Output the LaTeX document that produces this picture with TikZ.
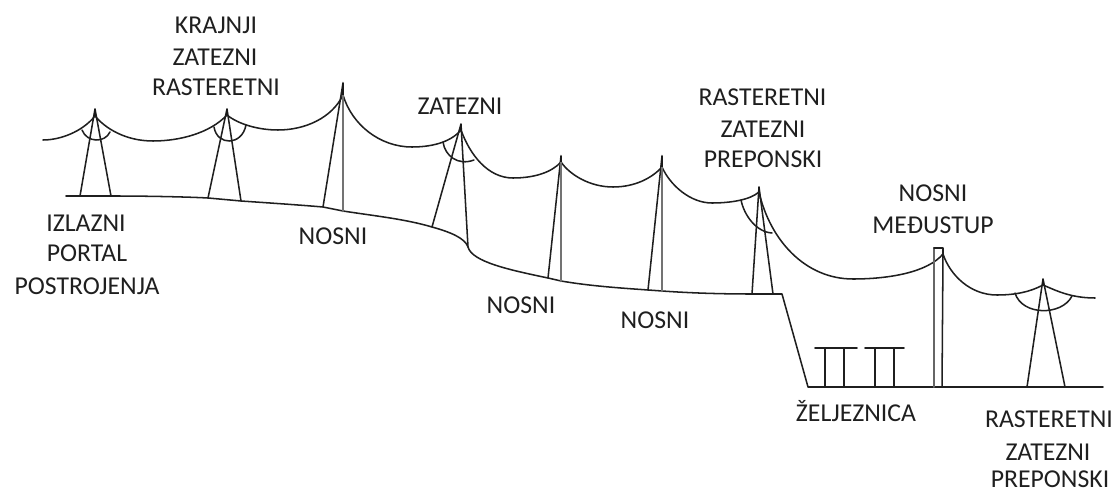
\documentclass[tikz,border=0pt]{standalone}
\usepackage{fontspec}
\setmainfont{Carlito}
\tikzset{
 wire/.style={draw=black!88,line width=1.15pt,line cap=round,line join=round},
 grey pole/.style={draw=black!55,line width=2pt,line cap=round},
 tip/.style={draw=black!90,line width=1.9pt},
 lab/.style={inner sep=0pt,anchor=center,text=black!88,text height=12.4pt,text depth=0pt,font=\fontsize{19.3pt}{22pt}\selectfont},
}
\begin{document}
\begin{tikzpicture}[x=0.75pt,y=-0.75pt]
\useasboundingbox (0,0) rectangle (1117,491);
% tower tips
\coordinate (t1) at (95,109);
\coordinate (t2) at (227,109);
\coordinate (t3) at (343,83);
\coordinate (t4) at (461,124);
\coordinate (t5) at (561,156);
\coordinate (t6) at (662,156);
\coordinate (t7) at (759,187);
\coordinate (t9) at (1043,279);
% conductor attachment points
\coordinate (a1) at (95,116);
\coordinate (a2) at (227,115);
\coordinate (a3) at (343,95);
\coordinate (a4) at (461,130);
\coordinate (a5) at (561,162);
\coordinate (a6) at (662,167);
\coordinate (a7) at (759,192);
\coordinate (a8) at (943,254);
\coordinate (a9) at (1043,285);
% feet
\coordinate (f1a) at (80,196); \coordinate (f1b) at (111,196);
\coordinate (f2a) at (208,198); \coordinate (f2b) at (241,201);
\coordinate (f3a) at (323,207); \coordinate (f3b) at (343,211);
\coordinate (f4a) at (432,227); \coordinate (f4b) at (468,247);
\coordinate (f5a) at (548,278); \coordinate (f5b) at (561,281);
\coordinate (f6a) at (648,290); \coordinate (f6b) at (662,291);
\coordinate (f7a) at (752,294); \coordinate (f7b) at (773,294);
\coordinate (f9a) at (1027,387); \coordinate (f9b) at (1065,387);
% ground
\coordinate (g0) at (66,196);
\coordinate (g1) at (782,294);
\coordinate (g2) at (808,387);
\coordinate (g3) at (1103,387);
\draw[wire] (g0) -- (f1b) .. controls (150,196) and (190,197) .. (f2a)
  -- (f2b) .. controls (270,203) and (300,205) .. (f3a) -- (f3b)
  .. controls (375,216) and (405,219) .. (f4a)
  .. controls (450,232) and (465,238) .. (f4b)
  .. controls (472,262) and (510,270) .. (f5a) -- (f5b)
  .. controls (590,286) and (620,288) .. (f6a) -- (f6b)
  .. controls (690,293) and (720,294) .. (f7a) -- (g1) -- (g2) -- (g3);
% conductor
\coordinate (c0) at (43,140);
\coordinate (c1) at (153,141);
\coordinate (c2) at (278,130);
\coordinate (c3) at (412,147);
\coordinate (c4) at (513,178);
\coordinate (c5) at (613,187);
\coordinate (c6) at (712,203);
\coordinate (c7) at (853,279);
\coordinate (c8) at (997,295);
\coordinate (c9) at (1095,298);
\draw[wire] (c0) .. controls (60,140) and (82,132) .. (a1)
  .. controls (105,128) and (125,141) .. (c1)
  .. controls (180,141) and (210,133) .. (a2)
  .. controls (238,124) and (258,130) .. (c2)
  .. controls (305,130) and (332,118) .. (a3)
  .. controls (352,125) and (380,147) .. (c3)
  .. controls (430,147) and (450,143) .. (a4)
  .. controls (470,155) and (488,178) .. (c4)
  .. controls (535,178) and (552,172) .. (a5)
  .. controls (570,175) and (590,187) .. (c5)
  .. controls (635,187) and (652,178) .. (a6)
  .. controls (670,185) and (690,203) .. (c6)
  .. controls (730,203) and (750,200) .. (a7)
  .. controls (770,240) and (805,279) .. (c7)
  .. controls (890,279) and (928,272) .. (a8)
  .. controls (950,275) and (970,295) .. (c8)
  .. controls (1015,295) and (1030,292) .. (a9)
  .. controls (1055,290) and (1070,298) .. (c9);
% towers
\foreach \n in {1,2,4,7} \draw[wire] (t\n) -- (f\n a) (t\n) -- (f\n b);
\draw[wire] (t9) -- (f9a) (t9) -- (f9b);
\foreach \n in {3,5,6} {
  \draw[wire] (t\n) -- (f\n a);
  \draw[grey pole] (t\n) -- (f\n b);
}
% tower tips, thickened down to the conductor
\foreach \n in {1,2,3,4,5,6,7,9} \draw[tip] (t\n) -- (a\n);
% portal pole
\coordinate (p1) at (934,387); \coordinate (p2) at (934,248);
\coordinate (p3) at (942,387); \coordinate (p4) at (943,248);
\draw[wire,black!60,line width=1.5pt] (p1) -- (p2);
\draw[wire] (p2) -- (p4) -- (a8) -- (p3);
% jumper arcs
\draw[wire] (82,130) .. controls (87,143) and (105,143) .. (110,132);
\draw[wire] (214,127) .. controls (217,146) and (242,146) .. (246,125);
\draw[wire] (443,142) .. controls (445,156) and (458,166) .. (474,160);
\draw[wire] (741,200) .. controls (744,215) and (756,232) .. (772,233);
\draw[wire] (1015,293) .. controls (1022,316) and (1062,316) .. (1072,296);
% railway gantries
\coordinate (r1a) at (815,348); \coordinate (r1b) at (857,348);
\coordinate (r2a) at (865,348); \coordinate (r2b) at (904,348);
\draw[wire] (r1a) -- (r1b) (r2a) -- (r2b);
\foreach \x in {825,844,875,894} \draw[wire] (\x,348) -- (\x,387);
% labels
\node[lab] (a1l) at (216,25) {KRAJNJI};
\node[lab] (a2l) at (215,57) {ZATEZNI};
\node[lab] (a3l) at (216,87) {RASTERETNI};
\node[lab] (b1) at (460,106) {ZATEZNI};
\node[lab] (c1l) at (762.5,97) {RASTERETNI};
\node[lab] (c2l) at (763,129) {ZATEZNI};
\node[lab] (c3l) at (763,159) {PREPONSKI};
\node[lab] (d1) at (933,193) {NOSNI};
\node[lab] (d2) at (933,225) {MEĐUSTUP};
\node[lab] (e1) at (86,223) {IZLAZNI};
\node[lab] (e2) at (87,253) {PORTAL};
\node[lab] (e3) at (87,286) {POSTROJENJA};
\node[lab] (n1) at (333,236) {NOSNI};
\node[lab] (n2) at (521,305) {NOSNI};
\node[lab] (n3) at (655,320) {NOSNI};
\node[lab] (z) at (856,413) {ŽELJEZNICA};
\node[lab] (h1) at (1049,419) {RASTERETNI};
\node[lab] (h2) at (1048,452) {ZATEZNI};
\node[lab] (h3) at (1050,479) {PREPONSKI};
\end{tikzpicture}
\end{document}
